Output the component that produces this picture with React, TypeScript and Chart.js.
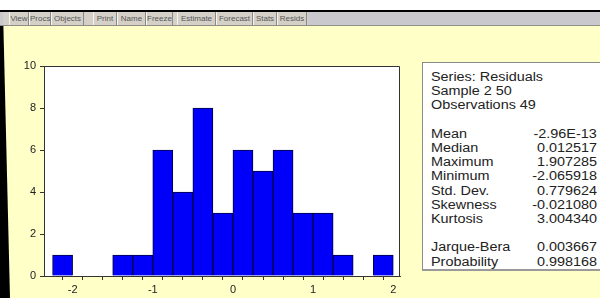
import React, { useEffect, useRef } from "react";
import { Chart, registerables } from "chart.js";

Chart.register(...registerables);

// ---- data ----
const BIN_CENTERS = [-2.125, -1.875, -1.625, -1.375, -1.125, -0.875, -0.625, -0.375, -0.125, 0.125, 0.375, 0.625, 0.875, 1.125, 1.375, 1.625, 1.875];
const COUNTS = [1, 0, 0, 1, 1, 6, 4, 8, 3, 6, 5, 6, 3, 3, 1, 0, 1];
const X_TICK_VALUES = [-2.25, -2, -1.75, -1.5, -1.25, -1, -0.75, -0.5, -0.25, 0, 0.25, 0.5, 0.75, 1, 1.25, 1.5, 1.75, 2];
const X_LABELED = [-2, -1, 0, 1, 2];
const Y_TICK_VALUES = [0, 2, 4, 6, 8, 10];
const X_MIN = -2.357;
const X_MAX = 2.084;
const Y_MIN = 0;
const Y_MAX = 10;

const HEADER_LINES = ["Series: Residuals", "Sample 2 50", "Observations 49"];
const STAT_NAMES = ["Mean", "Median", "Maximum", "Minimum", "Std. Dev.", "Skewness", "Kurtosis"];
const STAT_VALUES = ["-2.96E-13", "0.012517", "1.907285", "-2.065918", "0.779624", "-0.021080", "3.004340"];
const TEST_NAMES = ["Jarque-Bera", "Probability"];
const TEST_VALUES = ["0.003667", "0.998168"];
const TOOLBAR_BUTTONS = ["View", "Procs", "Objects", "Print", "Name", "Freeze", "Estimate", "Forecast", "Stats", "Resids"];

// ---- layout (not data) ----
const BUTTON_LEFT = [9, 29, 51, 93, 117, 146, 177, 216, 253, 277];
const BUTTON_WIDTH = [20, 22, 33, 24, 29, 27, 39, 37, 24, 30];

const YELLOW = "#FFFFC8";
const TEXT = "#222222";

const framePlugin = {
  id: "plotFrame",
  beforeDraw(chart: any) {
    const { ctx, chartArea: a } = chart;
    ctx.save();
    ctx.fillStyle = "#ffffff";
    ctx.fillRect(a.left, a.top, a.right - a.left, a.bottom - a.top);
    ctx.restore();
  },
  afterDatasetsDraw(chart: any) {
    const { ctx, chartArea: a } = chart;
    ctx.save();
    ctx.strokeStyle = "#333333";
    ctx.lineWidth = 1;
    ctx.beginPath();
    ctx.moveTo(Math.round(a.left), Math.round(a.top) + 0.5);
    ctx.lineTo(Math.round(a.right) - 0.5, Math.round(a.top) + 0.5);
    ctx.lineTo(Math.round(a.right) - 0.5, Math.round(a.bottom) + 1);
    ctx.stroke();
    ctx.restore();
  },
};

function Histogram() {
  const ref = useRef<HTMLCanvasElement | null>(null);
  useEffect(() => {
    if (!ref.current) return;
    const chart = new Chart(ref.current, {
      type: "bar",
      data: {
        datasets: [
          {
            data: BIN_CENTERS.map((x, i) => ({ x, y: COUNTS[i] })) as any,
            backgroundColor: "#0000FA",
            borderColor: "#000040",
            borderWidth: { top: 1, left: 1, right: 1, bottom: 0 } as any,
            borderSkipped: false,
            barPercentage: 1,
            categoryPercentage: 1,
          },
        ],
      },
      options: {
        responsive: false,
        animation: false,
        devicePixelRatio: 1,
        layout: { padding: { top: 40, right: 20, left: 0, bottom: 0 } },
        plugins: { legend: { display: false }, tooltip: { enabled: false } },
        scales: {
          x: {
            type: "linear",
            min: X_MIN,
            max: X_MAX,
            offset: false,
            afterBuildTicks: (axis: any) => {
              axis.ticks = X_TICK_VALUES.map((v) => ({ value: v }));
            },
            afterFit: (axis: any) => {
              axis.height = 22;
            },
            ticks: {
              autoSkip: false,
              maxRotation: 0,
              padding: 3,
              color: TEXT,
              font: { family: "'Liberation Sans', Arial, sans-serif", size: 11 },
              callback: (v: any) => (X_LABELED.includes(Number(v)) ? String(v) : ""),
            },
            grid: { drawOnChartArea: false, drawTicks: true, tickLength: 4, color: "#333333" },
            border: { display: true, color: "#333333", width: 1 },
          },
          y: {
            type: "linear",
            min: Y_MIN,
            max: Y_MAX,
            afterBuildTicks: (axis: any) => {
              axis.ticks = Y_TICK_VALUES.map((v) => ({ value: v }));
            },
            afterFit: (axis: any) => {
              axis.width = 44;
            },
            ticks: {
              padding: 4,
              color: TEXT,
              font: { family: "'Liberation Sans', Arial, sans-serif", size: 11 },
            },
            grid: { drawOnChartArea: false, drawTicks: true, tickLength: 4, color: "#333333" },
            border: { display: true, color: "#333333", width: 1 },
          },
        },
      },
      plugins: [framePlugin],
    });
    return () => chart.destroy();
  }, []);
  return (
    <canvas
      ref={ref}
      width={420}
      height={272}
      style={{ position: "absolute", left: 0, top: 26, width: 420, height: 272 }}
    />
  );
}

function StatsBox() {
  const rows: Array<[string, string]> = [];
  HEADER_LINES.forEach((h) => rows.push([h, ""]));
  rows.push(["", ""]);
  STAT_NAMES.forEach((n, i) => rows.push([n, STAT_VALUES[i]]));
  rows.push(["", ""]);
  TEST_NAMES.forEach((n, i) => rows.push([n, TEST_VALUES[i]]));
  const font = "'Liberation Sans', Arial, sans-serif";
  return (
    <div
      style={{
        position: "absolute",
        left: 422,
        top: 62,
        width: 200,
        height: 209,
        background: "#ffffff",
        borderLeft: "1px solid #8a8a8a",
        borderTop: "1px solid #8a8a8a",
        borderBottom: "2px solid #9a9a9a",
        boxSizing: "border-box",
      }}
    >
      {rows.map(([l, v], i) => (
        <div
          key={i}
          style={{
            position: "absolute",
            left: 8,
            top: 7 + i * 14.2,
            width: 166,
            height: 14.2,
            lineHeight: "14.2px",
            fontFamily: font,
            fontSize: 12,
            color: TEXT,
            whiteSpace: "nowrap",
          }}
        >
          <span style={{ position: "absolute", left: 0, transform: "scaleX(1.2)", transformOrigin: "left center" }}>{l}</span>
          <span style={{ position: "absolute", right: 0, transform: "scaleX(1.2)", transformOrigin: "right center" }}>{v}</span>
        </div>
      ))}
    </div>
  );
}

function Toolbar() {
  return (
    <div
      style={{
        position: "absolute",
        left: 0,
        top: 12,
        width: 600,
        height: 13,
        background: "#c9c8cc",
        borderBottom: "1px solid #8f8f88",
      }}
    >
      <div style={{ position: "absolute", left: 3, top: 0, width: 305, height: 13, background: "#d4d0c8" }} />
      {TOOLBAR_BUTTONS.map((b, i) => (
        <div
          key={b}
          style={{
            position: "absolute",
            left: BUTTON_LEFT[i],
            top: 0,
            width: BUTTON_WIDTH[i],
            height: 13,
            boxSizing: "border-box",
            borderRight: "1px solid #888",
            borderLeft: "1px solid #f4f4f4",
            fontFamily: "'Liberation Sans', Arial, sans-serif",
            fontSize: 8,
            lineHeight: "13px",
            color: "#555",
            textAlign: "center",
            whiteSpace: "nowrap",
          }}
        >
          {b}
        </div>
      ))}
    </div>
  );
}

export default function App() {
  return (
    <div
      style={{
        position: "absolute",
        left: 0,
        top: 0,
        width: 600,
        height: 298,
        overflow: "hidden",
        background: YELLOW,
      }}
    >
      <div style={{ position: "absolute", left: 0, top: 0, width: 600, height: 10, background: "#ffffff" }} />
      <div style={{ position: "absolute", left: 0, top: 10, width: 600, height: 2, background: "#000000" }} />
      <div
        style={{
          position: "absolute",
          left: 0,
          top: 10,
          width: 12,
          height: 288,
          background: "#000000",
          clipPath: "polygon(0 0, 3px 0, 10px 100%, 0 100%)",
        }}
      />
      <Toolbar />
      <Histogram />
      <StatsBox />
    </div>
  );
}
